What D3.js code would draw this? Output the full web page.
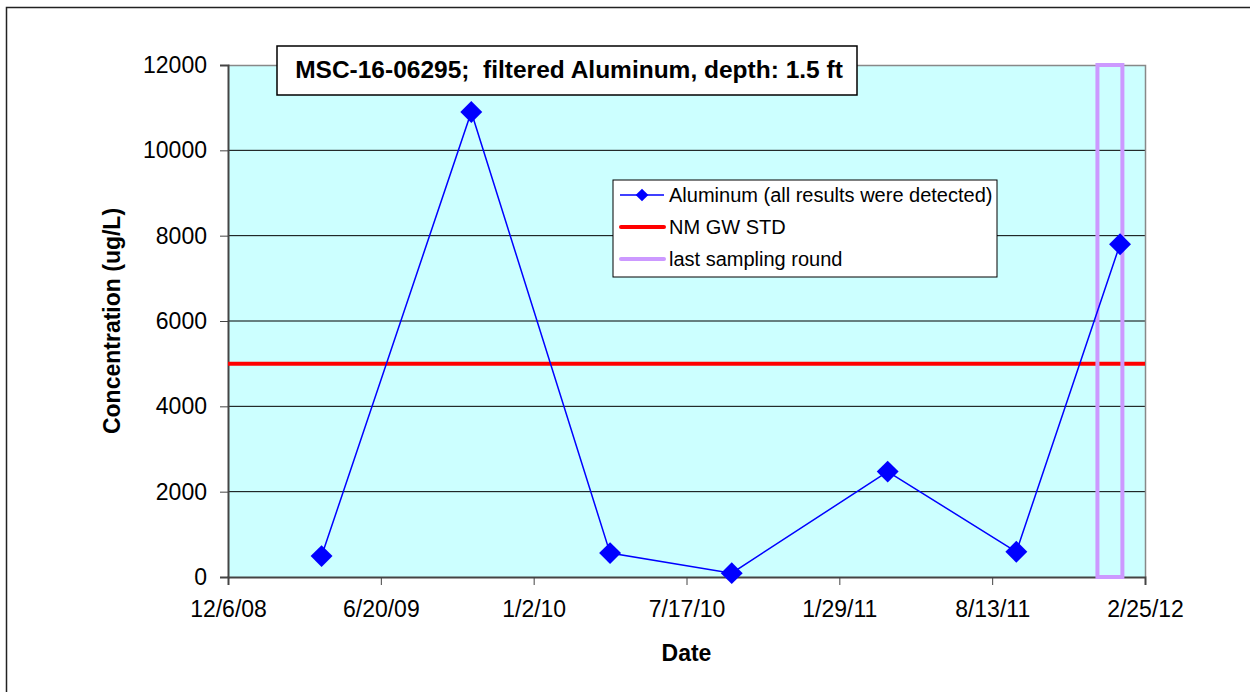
<!DOCTYPE html>
<html>
<head>
<meta charset="utf-8">
<script src="https://cdn.jsdelivr.net/npm/d3@7"></script>
<style>
  body { margin: 0; background: #fff; }
  svg { display: block; font-family: "Liberation Sans", Arial, sans-serif; }
</style>
</head>
<body>
<div id="chart"></div>
<script>
// sample dates and filtered aluminum results (ug/L)
const sampleDates = ["2009-04-05", "2009-10-14", "2010-04-10", "2010-09-13", "2011-04-01", "2011-09-13", "2012-01-24"];
const aluminum = [490, 10900, 560, 90, 2470, 590, 7800];

// NM groundwater standard
const stdValue = 5000;

// last sampling round highlight (start, end)
const lastRound = ["2011-12-26", "2012-01-27"];

// axis ticks
const xTickDates = ["2008-12-06", "2009-06-20", "2010-01-02", "2010-07-17", "2011-01-29", "2011-08-13", "2012-02-25"];
const yTicks = [0, 2000, 4000, 6000, 8000, 10000, 12000];

const legendLabels = ["Aluminum (all results were detected)", "NM GW STD", "last sampling round"];
const titleText = "MSC-16-06295;  filtered Aluminum, depth: 1.5 ft";

const parse = d3.timeParse("%Y-%m-%d");
const fmt = d3.timeFormat("%-m/%-d/%y");

const W = 1250, H = 692;
const margin = { top: 65, right: 105, bottom: 115, left: 228 };
const width = W - margin.left - margin.right;
const height = H - margin.top - margin.bottom;

const svg = d3.select("#chart").append("svg")
    .attr("width", W)
    .attr("height", H);

// outer chart border (only top and left visible in the frame)
svg.append("rect")
    .attr("x", 6.5).attr("y", 7.5)
    .attr("width", W + 20).attr("height", H + 20)
    .attr("fill", "none")
    .attr("stroke", "#222")
    .attr("stroke-width", 1.5);

const g = svg.append("g")
    .attr("transform", `translate(${margin.left}, ${margin.top})`);

const x = d3.scaleTime()
    .domain([parse(xTickDates[0]), parse(xTickDates[xTickDates.length - 1])])
    .range([0, width]);
const y = d3.scaleLinear().domain([0, 12000]).range([height, 0]);

// plot background
g.append("rect")
    .attr("width", width).attr("height", height)
    .attr("fill", "#CCFFFF");

// horizontal gridlines
g.selectAll(".grid")
    .data(yTicks.slice(1, -1))
    .enter().append("line")
    .attr("x1", 0).attr("x2", width)
    .attr("y1", d => y(d)).attr("y2", d => y(d))
    .attr("stroke", "#000").attr("stroke-width", 1);

// top and right border of plot area
g.append("path")
    .attr("d", `M0,0.5H${width + 0.5}V${height}`)
    .attr("fill", "none").attr("stroke", "#888").attr("stroke-width", 1.5);

// y axis
const yAxis = g.append("g")
    .call(d3.axisLeft(y).tickValues(yTicks).tickSize(8).tickPadding(13).tickFormat(d3.format("d")));
yAxis.select(".domain").attr("stroke", "#444").attr("stroke-width", 2);
yAxis.selectAll(".tick line").attr("stroke", "#444");
yAxis.selectAll("text").attr("font-size", 23).attr("fill", "#000")
    .attr("font-family", "Liberation Sans, Arial, sans-serif");

// x axis
const xAxis = g.append("g")
    .attr("transform", `translate(0, ${height})`)
    .call(d3.axisBottom(x).tickValues(xTickDates.map(parse)).tickSize(8).tickPadding(16).tickFormat(fmt));
xAxis.select(".domain").attr("stroke", "#444").attr("stroke-width", 2);
xAxis.selectAll(".tick line").attr("stroke", "#444");
xAxis.selectAll("text").attr("font-size", 23).attr("fill", "#000")
    .attr("font-family", "Liberation Sans, Arial, sans-serif");

// standard line
g.append("line")
    .attr("x1", 0).attr("x2", width)
    .attr("y1", y(stdValue)).attr("y2", y(stdValue))
    .attr("stroke", "#FF0000").attr("stroke-width", 4);

// last sampling round box
g.append("rect")
    .attr("x", x(parse(lastRound[0])))
    .attr("y", y(12000))
    .attr("width", x(parse(lastRound[1])) - x(parse(lastRound[0])))
    .attr("height", y(0) - y(12000))
    .attr("fill", "none")
    .attr("stroke", "#CC99FF").attr("stroke-width", 4);

// aluminum series
const data = sampleDates.map((d, i) => ({ date: parse(d), value: aluminum[i] }));
g.append("path")
    .datum(data)
    .attr("fill", "none")
    .attr("stroke", "#0000FF").attr("stroke-width", 1.5)
    .attr("d", d3.line().x(d => x(d.date)).y(d => y(d.value)));

const diamond = d3.symbol().type(d3.symbolSquare).size(240);
g.selectAll(".pt")
    .data(data)
    .enter().append("path")
    .attr("d", diamond)
    .attr("transform", d => `translate(${x(d.date)}, ${y(d.value)}) rotate(45)`)
    .attr("fill", "#0000FF");

// title box
const title = svg.append("g").attr("transform", "translate(277, 46)");
title.append("rect")
    .attr("width", 580).attr("height", 49)
    .attr("fill", "#fff").attr("stroke", "#000").attr("stroke-width", 1.5);
title.append("text")
    .attr("x", 292).attr("y", 32)
    .attr("text-anchor", "middle")
    .attr("font-size", 24.5).attr("font-weight", "bold")
    .style("white-space", "pre")
    .text(titleText);

// legend
const legend = svg.append("g").attr("transform", "translate(613, 180)");
legend.append("rect")
    .attr("width", 384).attr("height", 97)
    .attr("fill", "#fff").attr("stroke", "#000").attr("stroke-width", 1);
const rows = legend.selectAll(".row")
    .data(legendLabels)
    .enter().append("g")
    .attr("transform", (d, i) => `translate(0, ${15 + i * 32})`);
rows.append("text")
    .attr("x", 56).attr("y", 7)
    .attr("font-size", 20)
    .text(d => d);
// legend samples
rows.filter((d, i) => i === 0).append("line")
    .attr("x1", 7).attr("x2", 51).attr("stroke", "#0000FF").attr("stroke-width", 1.5);
rows.filter((d, i) => i === 0).append("path")
    .attr("d", d3.symbol().type(d3.symbolSquare).size(80))
    .attr("transform", "translate(29, 0) rotate(45)")
    .attr("fill", "#0000FF");
rows.filter((d, i) => i === 1).append("line")
    .attr("x1", 8).attr("x2", 51).attr("stroke", "#FF0000").attr("stroke-width", 4)
    .attr("stroke-linecap", "round");
rows.filter((d, i) => i === 2).append("line")
    .attr("x1", 8).attr("x2", 51).attr("stroke", "#CC99FF").attr("stroke-width", 4)
    .attr("stroke-linecap", "round");

// axis titles
svg.append("text")
    .attr("transform", `translate(120, ${margin.top + height / 2}) rotate(-90)`)
    .attr("text-anchor", "middle")
    .attr("font-size", 23).attr("font-weight", "bold")
    .text("Concentration (ug/L)");
svg.append("text")
    .attr("x", margin.left + width / 2).attr("y", 661)
    .attr("text-anchor", "middle")
    .attr("font-size", 23).attr("font-weight", "bold")
    .text("Date");
</script>
</body>
</html>
